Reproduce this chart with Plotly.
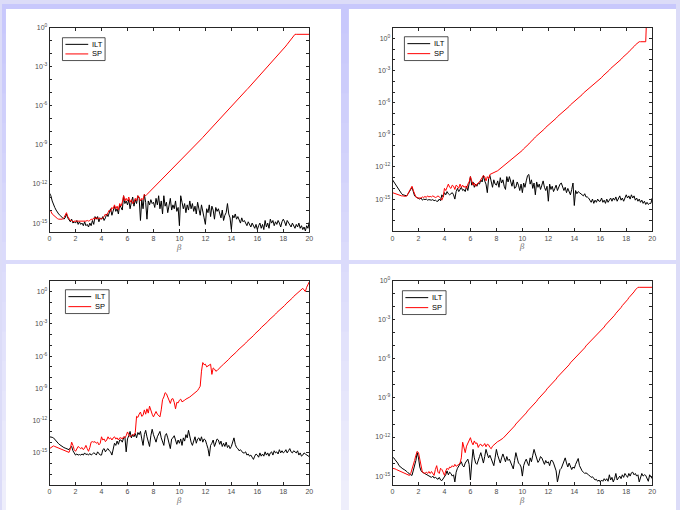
import plotly.graph_objects as go

W, H = 680, 510

# ---------------- data (log10 of the error), beta = 0, 0.1, ..., 20 ----------------
beta = [round(0.1 * i, 1) for i in range(201)]

tl_ilt_log10 = [
    -12.7, -12.9, -13.3, -13.6, -13.8, -14.0, -14.2, -14.3, -14.4, -14.5,
    -14.6, -14.7, -14.6, -14.3, -14.6, -14.8, -14.9, -14.7, -15.0, -14.9,
    -15.0, -14.8, -15.1, -14.9, -15.1, -15.0, -15.2, -14.9, -15.2, -15.1,
    -15.3, -15.0, -15.2, -14.8, -15.1, -14.5, -14.7, -14.5, -14.9, -14.6,
    -14.7, -14.5, -14.8, -14.6, -14.3, -14.5, -14.2, -13.9, -14.4, -14.0,
    -13.7, -14.1, -13.9, -14.3, -13.6, -13.8, -14.0, -12.9, -13.5, -13.3,
    -13.6, -13.2, -13.9, -13.4, -13.0, -13.7, -13.2, -13.5, -12.9, -13.1,
    -14.8, -13.2, -13.9, -12.8, -13.4, -14.7, -13.3, -13.6, -13.2, -13.5,
    -13.4, -13.8, -13.1, -13.6, -12.9, -13.9, -13.3, -14.3, -12.9, -13.7,
    -13.4, -14.2, -13.5, -13.1, -14.0, -13.6, -13.9, -13.3, -14.1, -13.8,
    -15.2, -12.9, -13.4, -13.9, -13.5, -14.2, -13.6, -14.0, -13.3, -13.9,
    -13.5, -14.1, -13.7, -14.3, -13.4, -13.9, -14.4, -13.6, -14.0, -14.6,
    -15.1, -13.9, -14.2, -13.6, -14.5, -13.7, -14.0, -14.7, -13.8, -14.1,
    -13.9, -14.3, -14.6, -14.0, -14.8, -14.4, -14.2, -13.5, -14.3, -14.6,
    -15.5, -14.4, -14.6, -14.3, -14.7, -14.5, -14.8, -15.0, -14.6, -14.9,
    -14.8, -15.0, -15.2, -14.9, -15.1, -15.3, -15.0, -15.2, -15.4, -15.1,
    -15.5, -15.2, -15.0, -15.4, -15.1, -15.5, -14.8, -15.3, -15.0, -15.4,
    -14.7, -15.0, -14.8, -15.2, -14.9, -15.1, -14.8, -15.0, -15.3, -14.9,
    -14.7, -14.9, -15.2, -14.8, -15.0, -15.1, -15.3, -15.0, -15.2, -15.4,
    -15.1, -15.3, -15.0, -15.4, -15.2, -15.5, -15.3, -15.6, -15.2, -15.4,
    -14.9,
]

tl_sp_log10 = [
    -14.0, -14.1, -14.3, -14.4, -14.5, -14.6, -14.65, -14.7, -14.7, -14.7,
    -14.7, -14.6, -14.4, -14.2, -14.5, -14.7, -14.8, -14.8, -14.9, -14.85,
    -14.85, -14.9, -14.85, -14.9, -14.85, -14.85, -14.9, -14.85, -14.85, -14.8,
    -14.85, -14.8, -14.7, -14.75, -14.6, -14.7, -14.55, -14.7, -14.6, -14.65,
    -14.7, -14.6, -14.5, -14.3, -14.4, -14.2, -14.0, -14.1, -13.8, -13.9,
    -13.6, -13.9, -13.7, -14.0, -13.5, -13.7, -13.4, -12.9, -13.3, -13.1,
    -13.3, -13.0, -13.4, -13.2, -13.5, -13.4, -13.1, -13.3, -12.9, -13.0,
    -13.3, -13.1, -13.2, -12.8, -12.9, -12.8, -12.7, -12.6, -12.5, -12.4,
    -12.3, -12.2, -12.1, -12.0, -11.9, -11.8, -11.7, -11.6, -11.5, -11.4,
    -11.3, -11.2, -11.1, -11.0, -10.9, -10.8, -10.7, -10.6, -10.5, -10.4,
    -10.3, -10.2, -10.1, -10.0, -9.9, -9.8, -9.7, -9.6, -9.5, -9.4,
    -9.3, -9.19, -9.08, -8.97, -8.86, -8.75, -8.64, -8.53, -8.42, -8.31,
    -8.2, -8.09, -7.98, -7.87, -7.76, -7.65, -7.54, -7.43, -7.32, -7.21,
    -7.1, -6.99, -6.88, -6.77, -6.66, -6.55, -6.44, -6.33, -6.22, -6.11,
    -6.0, -5.9, -5.79, -5.69, -5.58, -5.48, -5.37, -5.27, -5.16, -5.06,
    -4.95, -4.85, -4.74, -4.64, -4.53, -4.43, -4.32, -4.22, -4.11, -4.01,
    -3.9, -3.79, -3.68, -3.57, -3.46, -3.35, -3.24, -3.13, -3.02, -2.91,
    -2.8, -2.69, -2.57, -2.46, -2.34, -2.23, -2.11, -2.0, -1.88, -1.77,
    -1.65, -1.52, -1.4, -1.27, -1.14, -1.01, -0.88, -0.76, -0.63, -0.5,
    -0.5, -0.5, -0.5, -0.5, -0.5, -0.5, -0.5, -0.5, -0.5, -0.5,
    -0.5,
]

tr_ilt_log10 = [
    -13.2, -13.4, -13.6, -13.8, -14.0, -14.2, -14.35, -14.5, -14.6, -14.65,
    -14.7, -14.7, -14.5, -14.3, -14.0, -13.9, -14.3, -14.7, -14.8, -14.85,
    -14.9, -15.0, -14.9, -15.1, -15.0, -15.05, -15.0, -15.1, -15.05, -15.1,
    -15.1, -15.05, -15.15, -15.1, -15.2, -15.2, -15.0, -15.15, -14.6, -14.8,
    -14.4, -14.6, -14.3, -14.5, -14.6, -14.5, -14.4, -14.6, -15.0, -14.3,
    -14.0, -14.3, -14.1, -13.9, -14.2, -14.1, -14.3, -13.8, -14.2, -13.5,
    -12.9, -13.7, -13.4, -13.9, -13.6, -13.8, -13.5, -13.6, -13.2, -13.4,
    -12.8, -13.3, -13.6, -14.4, -13.1, -12.8, -13.5, -13.9, -13.2, -13.6,
    -13.7, -13.3, -13.9, -13.0, -13.5, -13.2, -13.8, -14.1, -12.9, -13.4,
    -12.9, -13.5, -13.8, -13.2, -14.0, -13.9, -13.4, -13.7, -14.2, -13.6,
    -14.4, -13.5, -13.9, -13.3, -12.8, -12.7, -13.6, -13.2, -14.0, -13.5,
    -14.6, -13.4, -13.9, -13.6, -14.1, -13.7, -13.3, -13.9, -14.2, -13.8,
    -15.2, -13.6, -14.1, -13.8, -14.3, -14.0, -13.7, -14.2, -13.9, -13.6,
    -13.5, -13.8, -14.2, -13.9, -14.4, -14.0, -14.3, -14.6, -14.1, -13.5,
    -15.6, -14.2, -14.5, -14.3, -14.4, -14.5, -14.6, -14.7, -14.5, -14.8,
    -14.8, -14.9, -15.1, -15.3, -15.0, -15.4, -15.1, -15.3, -15.0, -15.2,
    -15.2, -14.9, -15.3, -15.1, -15.4, -15.0, -15.3, -15.1, -14.9, -15.2,
    -14.9, -15.1, -14.8, -15.2, -15.0, -14.7, -15.1, -14.9, -15.2, -14.8,
    -14.6, -14.9, -14.7, -15.0, -14.6, -14.9, -14.7, -15.1, -14.9, -15.2,
    -15.0, -15.3, -15.1, -15.4, -15.2, -15.5, -15.3, -15.5, -15.4, -15.4,
    -14.9,
]

tr_sp_log10 = [
    -14.4, -14.45, -14.5, -14.55, -14.6, -14.6, -14.65, -14.7, -14.7, -14.75,
    -14.75, -14.7, -14.5, -14.3, -14.0, -13.8, -14.2, -14.6, -14.8, -14.9,
    -14.9, -14.85, -14.9, -14.8, -14.85, -14.75, -14.85, -14.7, -14.8, -14.75,
    -14.8, -14.7, -14.75, -14.85, -14.8, -14.7, -14.8, -14.9, -15.1, -14.8,
    -14.0, -14.2, -13.9, -13.6, -13.9, -14.0, -13.7, -13.8, -14.1, -13.7,
    -13.8, -14.0, -13.6, -13.9, -13.7, -13.9, -13.8, -14.0, -13.6, -13.4,
    -12.9, -13.3, -13.7, -13.5, -13.8, -13.6, -13.5, -13.4, -13.2, -13.0,
    -12.8, -12.9, -13.3, -12.9, -13.1, -12.7, -12.65, -12.6, -12.55, -12.5,
    -12.45, -12.35, -12.25, -12.15, -12.05, -11.95, -11.85, -11.75, -11.65, -11.55,
    -11.5, -11.4, -11.3, -11.2, -11.1, -11.0, -10.9, -10.75, -10.65, -10.55,
    -10.45, -10.3, -10.2, -10.1, -9.95, -9.85, -9.7, -9.6, -9.45, -9.35,
    -9.2, -9.1, -9.0, -8.9, -8.75, -8.65, -8.55, -8.45, -8.3, -8.2,
    -8.1, -8.0, -7.9, -7.75, -7.65, -7.55, -7.45, -7.3, -7.2, -7.1,
    -7.0, -6.9, -6.8, -6.65, -6.55, -6.45, -6.35, -6.2, -6.1, -6.0,
    -5.9, -5.8, -5.7, -5.55, -5.45, -5.35, -5.25, -5.1, -5.0, -4.9,
    -4.8, -4.7, -4.6, -4.5, -4.4, -4.3, -4.2, -4.05, -3.95, -3.85,
    -3.75, -3.65, -3.5, -3.4, -3.3, -3.15, -3.05, -2.95, -2.8, -2.7,
    -2.6, -2.5, -2.4, -2.25, -2.15, -2.05, -1.95, -1.8, -1.7, -1.6,
    -1.5, -1.35, -1.25, -1.1, -1.0, -0.85, -0.75, -0.6, -0.5, -0.35,
    -0.3, -0.3, -0.3, -0.3, -0.3, -0.3, 3.0, 3.0, 3.0, 3.0,
    3.0,
]

bl_ilt_log10 = [
    -13.5, -13.5, -13.55, -13.6, -13.75, -13.95, -14.05, -14.15, -14.25, -14.35,
    -14.4, -14.5, -14.55, -14.6, -14.65, -14.7, -14.5, -14.4, -14.8, -14.95,
    -15.2, -15.1, -15.2, -15.15, -15.2, -15.1, -15.2, -15.0, -15.15, -15.1,
    -15.2, -15.05, -15.2, -15.1, -15.0, -15.05, -15.2, -14.9, -15.1, -15.2,
    -15.2, -14.7, -14.6, -14.9, -14.7, -14.6, -14.8, -14.9, -15.2, -14.6,
    -14.1, -14.3, -13.9, -14.2, -13.8, -13.8, -14.0, -13.6, -13.5, -14.9,
    -13.7, -13.4, -13.0, -13.6, -13.3, -13.5, -13.2, -13.6, -13.1, -13.3,
    -13.0, -13.7, -14.3, -13.3, -12.9, -13.5, -14.0, -14.4, -13.4, -12.8,
    -13.3, -13.7, -14.0, -13.5, -13.2, -13.0, -13.6, -13.9, -14.3, -13.4,
    -13.2, -13.6, -14.0, -14.6, -13.7, -13.6, -13.4, -13.9, -14.2, -13.8,
    -14.1, -13.7, -14.3, -13.6, -13.9, -13.3, -13.6, -12.9, -13.5, -14.0,
    -14.3, -13.8, -13.5, -14.1, -13.7, -13.6, -13.9, -13.5, -14.0, -13.7,
    -13.8, -14.2, -14.6, -15.3, -14.3, -14.1, -13.8, -14.4, -14.0, -13.7,
    -13.8, -14.2, -13.9, -14.4, -14.1, -14.4, -14.0, -14.5, -14.3, -14.6,
    -14.4, -13.9, -13.6, -14.2, -14.5, -14.6, -14.8, -14.7, -14.9, -15.0,
    -15.0, -14.9, -15.2, -15.1, -15.3, -15.2, -15.4, -15.6, -15.3, -15.1,
    -15.2, -15.4, -15.0, -15.3, -15.1, -15.3, -14.9, -15.2, -15.0, -15.3,
    -15.0, -14.9, -15.2, -14.8, -15.0, -14.9, -15.1, -14.7, -15.0, -14.8,
    -15.0, -14.9, -14.7, -15.0, -14.8, -14.6, -14.9, -15.0, -14.8, -14.9,
    -15.0, -14.8, -15.2, -15.0, -15.3, -15.2, -15.0, -15.1, -15.2, -15.3,
    -15.35,
]

bl_sp_log10 = [
    -14.6, -14.5, -14.4, -14.35, -14.4, -14.45, -14.5, -14.5, -14.55, -14.6,
    -14.65, -14.7, -14.75, -14.8, -14.85, -14.95, -14.6, -14.0, -14.3, -14.7,
    -14.85, -14.6, -14.4, -14.5, -14.6, -14.5, -14.7, -14.55, -14.3, -14.6,
    -14.85, -14.5, -14.0, -13.95, -14.0, -13.95, -14.1, -14.0, -14.25, -14.1,
    -13.5, -13.8, -13.7, -13.95, -13.8, -13.5, -13.7, -13.6, -13.8, -13.6,
    -13.5, -13.7, -13.6, -13.8, -13.6, -13.6, -13.7, -13.5, -13.6, -13.4,
    -13.05, -13.3, -13.5, -13.4, -13.3, -13.35, -13.1, -11.6, -11.7, -11.4,
    -11.2, -11.6, -11.5, -11.0, -11.4, -10.9, -11.3, -10.65, -11.1, -11.4,
    -11.65, -11.3, -11.15, -11.4, -11.5, -11.65, -11.0, -10.05, -9.8, -9.4,
    -9.5, -9.8, -10.0, -10.4, -10.0, -9.95, -10.3, -10.9, -10.3, -10.35,
    -10.1, -10.0, -10.25, -10.2, -10.1, -10.0, -9.95, -9.9, -9.8, -9.7,
    -9.6, -9.5, -9.4, -9.3, -9.2, -9.0, -8.8, -7.4, -6.6, -6.8,
    -6.75, -7.0, -6.9, -6.8, -6.75, -7.7, -7.1, -7.2, -7.4, -7.35,
    -7.2, -7.1, -7.0, -6.85, -6.75, -6.65, -6.5, -6.4, -6.3, -6.15,
    -6.05, -5.95, -5.8, -5.7, -5.6, -5.45, -5.35, -5.25, -5.1, -5.0,
    -4.9, -4.8, -4.65, -4.55, -4.45, -4.3, -4.2, -4.1, -3.95, -3.85,
    -3.7, -3.6, -3.5, -3.35, -3.25, -3.15, -3.0, -2.9, -2.8, -2.65,
    -2.55, -2.45, -2.3, -2.2, -2.1, -1.95, -1.85, -1.75, -1.6, -1.5,
    -1.4, -1.3, -1.15, -1.05, -0.95, -0.8, -0.7, -0.6, -0.45, -0.35,
    -0.25, -0.1, 0.0, 0.1, 0.2, 0.3, 0.15, 0.0, 0.4, 0.7,
    0.9,
]

br_ilt_log10 = [
    -13.55, -13.6, -13.75, -13.85, -14.0, -14.2, -14.3, -14.4, -14.45, -14.5,
    -14.55, -14.65, -14.75, -14.85, -14.9, -14.95, -14.6, -14.1, -13.8, -13.2,
    -13.6, -14.3, -14.6, -14.7, -14.75, -14.8, -14.9, -14.95, -15.0, -15.05,
    -15.1, -15.0, -15.15, -15.1, -15.2, -15.25, -15.1, -15.3, -15.35, -15.2,
    -15.1, -14.9, -14.6, -14.9, -14.7, -14.8, -15.0, -14.9, -15.45, -14.7,
    -14.4, -14.2, -14.0, -13.9, -14.2, -14.3, -14.0, -13.8, -13.7, -14.1,
    -15.3, -14.0, -12.95, -13.6, -14.0, -14.1, -13.7, -13.5, -13.2, -13.6,
    -14.0, -13.5, -12.95, -13.3, -13.6, -13.4, -13.7, -14.0, -14.2, -13.6,
    -12.95, -13.4, -13.7, -14.0, -13.6, -13.3, -13.6, -13.9, -13.5, -13.8,
    -13.7, -14.0, -14.2, -14.45, -13.8, -13.2, -13.6, -14.0, -14.1, -14.3,
    -15.0, -14.2, -13.9, -13.7, -14.0, -14.2, -13.6, -13.9, -13.4, -12.95,
    -13.3, -13.7, -13.95, -13.8, -13.5, -13.6, -13.9, -14.1, -13.8, -14.0,
    -13.9, -14.2, -13.8, -13.8, -14.0, -14.3, -14.6, -15.45, -14.8, -14.5,
    -14.4, -14.1, -13.8, -13.6, -14.0, -14.3, -14.0, -14.2, -14.5, -14.3,
    -14.4, -14.1, -13.9, -13.65, -14.2, -14.45, -14.6, -14.7, -14.8, -14.75,
    -14.8, -14.9, -15.0, -15.1, -15.05, -15.2, -15.3, -15.25, -15.4, -15.3,
    -15.45, -15.3, -15.4, -15.2, -15.35, -15.2, -15.4, -14.9, -15.3, -15.1,
    -15.45, -15.2, -14.8, -15.3, -15.1, -15.0, -15.2, -14.9, -15.1, -14.8,
    -14.95, -15.1, -14.8, -15.0, -14.75, -14.7, -14.9, -14.8, -15.0, -14.9,
    -15.45, -15.0, -14.8, -15.0, -14.9, -14.95, -15.2, -15.4, -14.9, -15.1,
    -15.2,
]

br_sp_log10 = [
    -14.4, -14.4, -14.45, -14.5, -14.55, -14.6, -14.65, -14.7, -14.75, -14.8,
    -14.8, -14.85, -14.9, -14.95, -14.8, -14.5, -14.1, -13.8, -13.4, -13.1,
    -13.2, -13.8, -14.3, -14.7, -14.75, -14.8, -14.7, -14.8, -14.65, -14.8,
    -14.65, -14.8, -14.95, -14.5, -14.2, -14.7, -14.8, -14.4, -14.5, -14.7,
    -14.95, -14.6, -14.4, -14.5, -14.3, -14.35, -14.2, -14.3, -14.1, -14.25,
    -14.2, -14.1, -14.0, -13.6, -12.4, -12.9, -13.2, -12.7, -12.5, -12.3,
    -12.05, -12.4, -12.6, -12.3, -12.5, -12.45, -12.8, -12.6, -12.55, -12.7,
    -12.65, -12.5, -12.75, -12.55, -12.6, -12.8, -12.9, -12.7, -12.6, -12.5,
    -12.4, -12.35, -12.3, -12.25, -12.15, -12.1, -12.0, -11.9, -11.8, -11.7,
    -11.55, -11.45, -11.35, -11.25, -11.15, -11.0, -10.9, -10.8, -10.7, -10.6,
    -10.45, -10.35, -10.25, -10.15, -10.0, -9.9, -9.8, -9.7, -9.6, -9.45,
    -9.35, -9.25, -9.1, -9.0, -8.9, -8.8, -8.65, -8.55, -8.45, -8.3,
    -8.2, -8.1, -8.0, -7.85, -7.75, -7.65, -7.55, -7.4, -7.3, -7.2,
    -7.1, -7.0, -6.9, -6.75, -6.65, -6.55, -6.45, -6.3, -6.2, -6.1,
    -6.0, -5.9, -5.8, -5.7, -5.55, -5.45, -5.35, -5.25, -5.15, -5.0,
    -4.9, -4.8, -4.7, -4.6, -4.5, -4.4, -4.25, -4.15, -4.05, -3.95,
    -3.85, -3.75, -3.65, -3.55, -3.4, -3.3, -3.2, -3.1, -3.0, -2.85,
    -2.75, -2.65, -2.5, -2.4, -2.3, -2.15, -2.05, -1.9, -1.8, -1.7,
    -1.55, -1.45, -1.3, -1.2, -1.05, -0.95, -0.85, -0.7, -0.6, -0.5,
    -0.5, -0.5, -0.5, -0.5, -0.5, -0.5, -0.5, -0.5, -0.5, -0.5,
    -0.5,
]

x_ticks = [0, 2, 4, 6, 8, 10, 12, 14, 16, 18, 20]
y_label_exponents = [0, -3, -6, -9, -12, -15]
series_names = ["ILT", "SP"]
series_colors = ["#000000", "#ff0000"]

for arr in (tl_ilt_log10, tl_sp_log10, tr_ilt_log10, tr_sp_log10,
            bl_ilt_log10, bl_sp_log10, br_ilt_log10, br_sp_log10):
    assert len(arr) == len(beta), len(arr)


def px(x):
    return x / W


def py(y):
    return 1 - y / H


# panel layout in pixels: plot area (x0, x1, y0, y1), y-range exponents, legend box
panels = [
    dict(data=(tl_ilt_log10, tl_sp_log10), area=(48, 310, 24, 230), yr=(-15.7, 0.0),
         decades=range(-15, 1), legend=(61, 104, 34, 57)),
    dict(data=(tr_ilt_log10, tr_sp_log10), area=(394, 656, 24, 229), yr=(-18.0, 1.0),
         decades=range(-17, 2), legend=(406, 450, 33, 57)),
    dict(data=(bl_ilt_log10, bl_sp_log10), area=(48, 310, 279, 485), yr=(-18.0, 1.0),
         decades=range(-17, 2), legend=(64, 108, 288, 312)),
    dict(data=(br_ilt_log10, br_sp_log10), area=(394, 656, 279, 485), yr=(-15.7, 0.0),
         decades=range(-15, 1), legend=(404, 448, 289, 313)),
]

FONT = "Liberation Sans, Arial, Helvetica, sans-serif"
AX = "#262626"
LBL = "#4d4d4d"

fig = go.Figure()
shapes = []
annotations = []

# slide-like background: lavender gradient strips, then white panels
n_strips = 17
for i in range(n_strips):
    t = i / (n_strips - 1)
    r = int(0xc8 + t * (0xee - 0xc8))
    g = r
    b = int(0xfc + t * (0xfb - 0xfc))
    shapes.append(dict(type="rect", xref="paper", yref="paper", layer="below",
                       x0=0, x1=1, y0=py(i * 30 + 31), y1=py(i * 30),
                       fillcolor=f"rgb({r},{g},{b})", line=dict(width=0)))
for (x0, x1, y0, y1) in [(4, 342, 5, 258), (350, 680, 5, 258),
                         (4, 342, 262, 510), (350, 680, 262, 510)]:
    shapes.append(dict(type="rect", xref="paper", yref="paper", layer="below",
                       x0=px(x0), x1=px(x1), y0=py(y1), y1=py(y0),
                       fillcolor="white", line=dict(width=0)))

layout_axes = {}
for k, p in enumerate(panels, start=1):
    xa = "x" if k == 1 else f"x{k}"
    ya = "y" if k == 1 else f"y{k}"
    x0, x1, y0, y1 = p["area"]
    for name, color, logs in zip(series_names, series_colors, p["data"]):
        fig.add_trace(go.Scatter(
            x=beta, y=[10 ** v for v in logs], mode="lines", name=name,
            line=dict(color=color, width=1), xaxis=xa, yaxis=ya, showlegend=False))

    major_vals = [10.0 ** d for d in y_label_exponents]
    major_text = [f"10<sup>{d}</sup>" for d in y_label_exponents]
    minor_vals = [10.0 ** d for d in p["decades"] if d not in y_label_exponents]

    layout_axes["xaxis" if k == 1 else f"xaxis{k}"] = dict(
        domain=[px(x0), px(x1)], anchor=ya, range=[0, 20],
        tickvals=x_ticks, ticks="inside", ticklen=3, tickwidth=0.8, tickcolor=AX,
        showline=True, linecolor=AX, linewidth=0.8, mirror="allticks",
        showgrid=False, zeroline=False,
        tickfont=dict(family=FONT, size=7, color=LBL),
        title=dict(text="<i>β</i>", font=dict(family="DejaVu Serif, serif", size=8, color="#777"),
                   standoff=2),
    )
    layout_axes["yaxis" if k == 1 else f"yaxis{k}"] = dict(
        domain=[py(y1), py(y0)], anchor=xa, type="log", range=list(p["yr"]),
        tickvals=major_vals, ticktext=major_text, ticks="inside", ticklen=3, tickwidth=0.8,
        tickcolor=AX, showline=True, linecolor=AX, linewidth=0.8, mirror="allticks",
        showgrid=False, zeroline=False,
        minor=dict(tickmode="array", tickvals=minor_vals, ticks="inside", ticklen=3,
                   tickwidth=0.8, tickcolor=AX, showgrid=False),
        tickfont=dict(family=FONT, size=7, color=LBL),
    )

    # legend box (drawn manually to match MATLAB's compact legend)
    lx0, lx1, ly0, ly1 = p["legend"]
    shapes.append(dict(type="rect", xref="paper", yref="paper",
                       x0=px(lx0), x1=px(lx1), y0=py(ly1), y1=py(ly0),
                       fillcolor="white", line=dict(color="#262626", width=0.8)))
    row_y = [ly0 + (ly1 - ly0) * 0.29, ly0 + (ly1 - ly0) * 0.71]
    for name, color, yy in zip(series_names, series_colors, row_y):
        shapes.append(dict(type="line", xref="paper", yref="paper",
                           x0=px(lx0 + 3), x1=px(lx0 + 26), y0=py(yy), y1=py(yy),
                           line=dict(color=color, width=1)))
        annotations.append(dict(text=name, xref="paper", yref="paper",
                                x=px(lx0 + 27.5), y=py(yy), xanchor="left", yanchor="middle",
                                showarrow=False,
                                font=dict(family=FONT, size=7.5, color="#000")))

fig.update_layout(
    width=W, height=H, margin=dict(l=0, r=0, t=0, b=0),
    paper_bgcolor="#dcdcf8", plot_bgcolor="white",
    shapes=shapes, annotations=annotations, showlegend=False,
    **layout_axes,
)

fig.write_html("out.html")
